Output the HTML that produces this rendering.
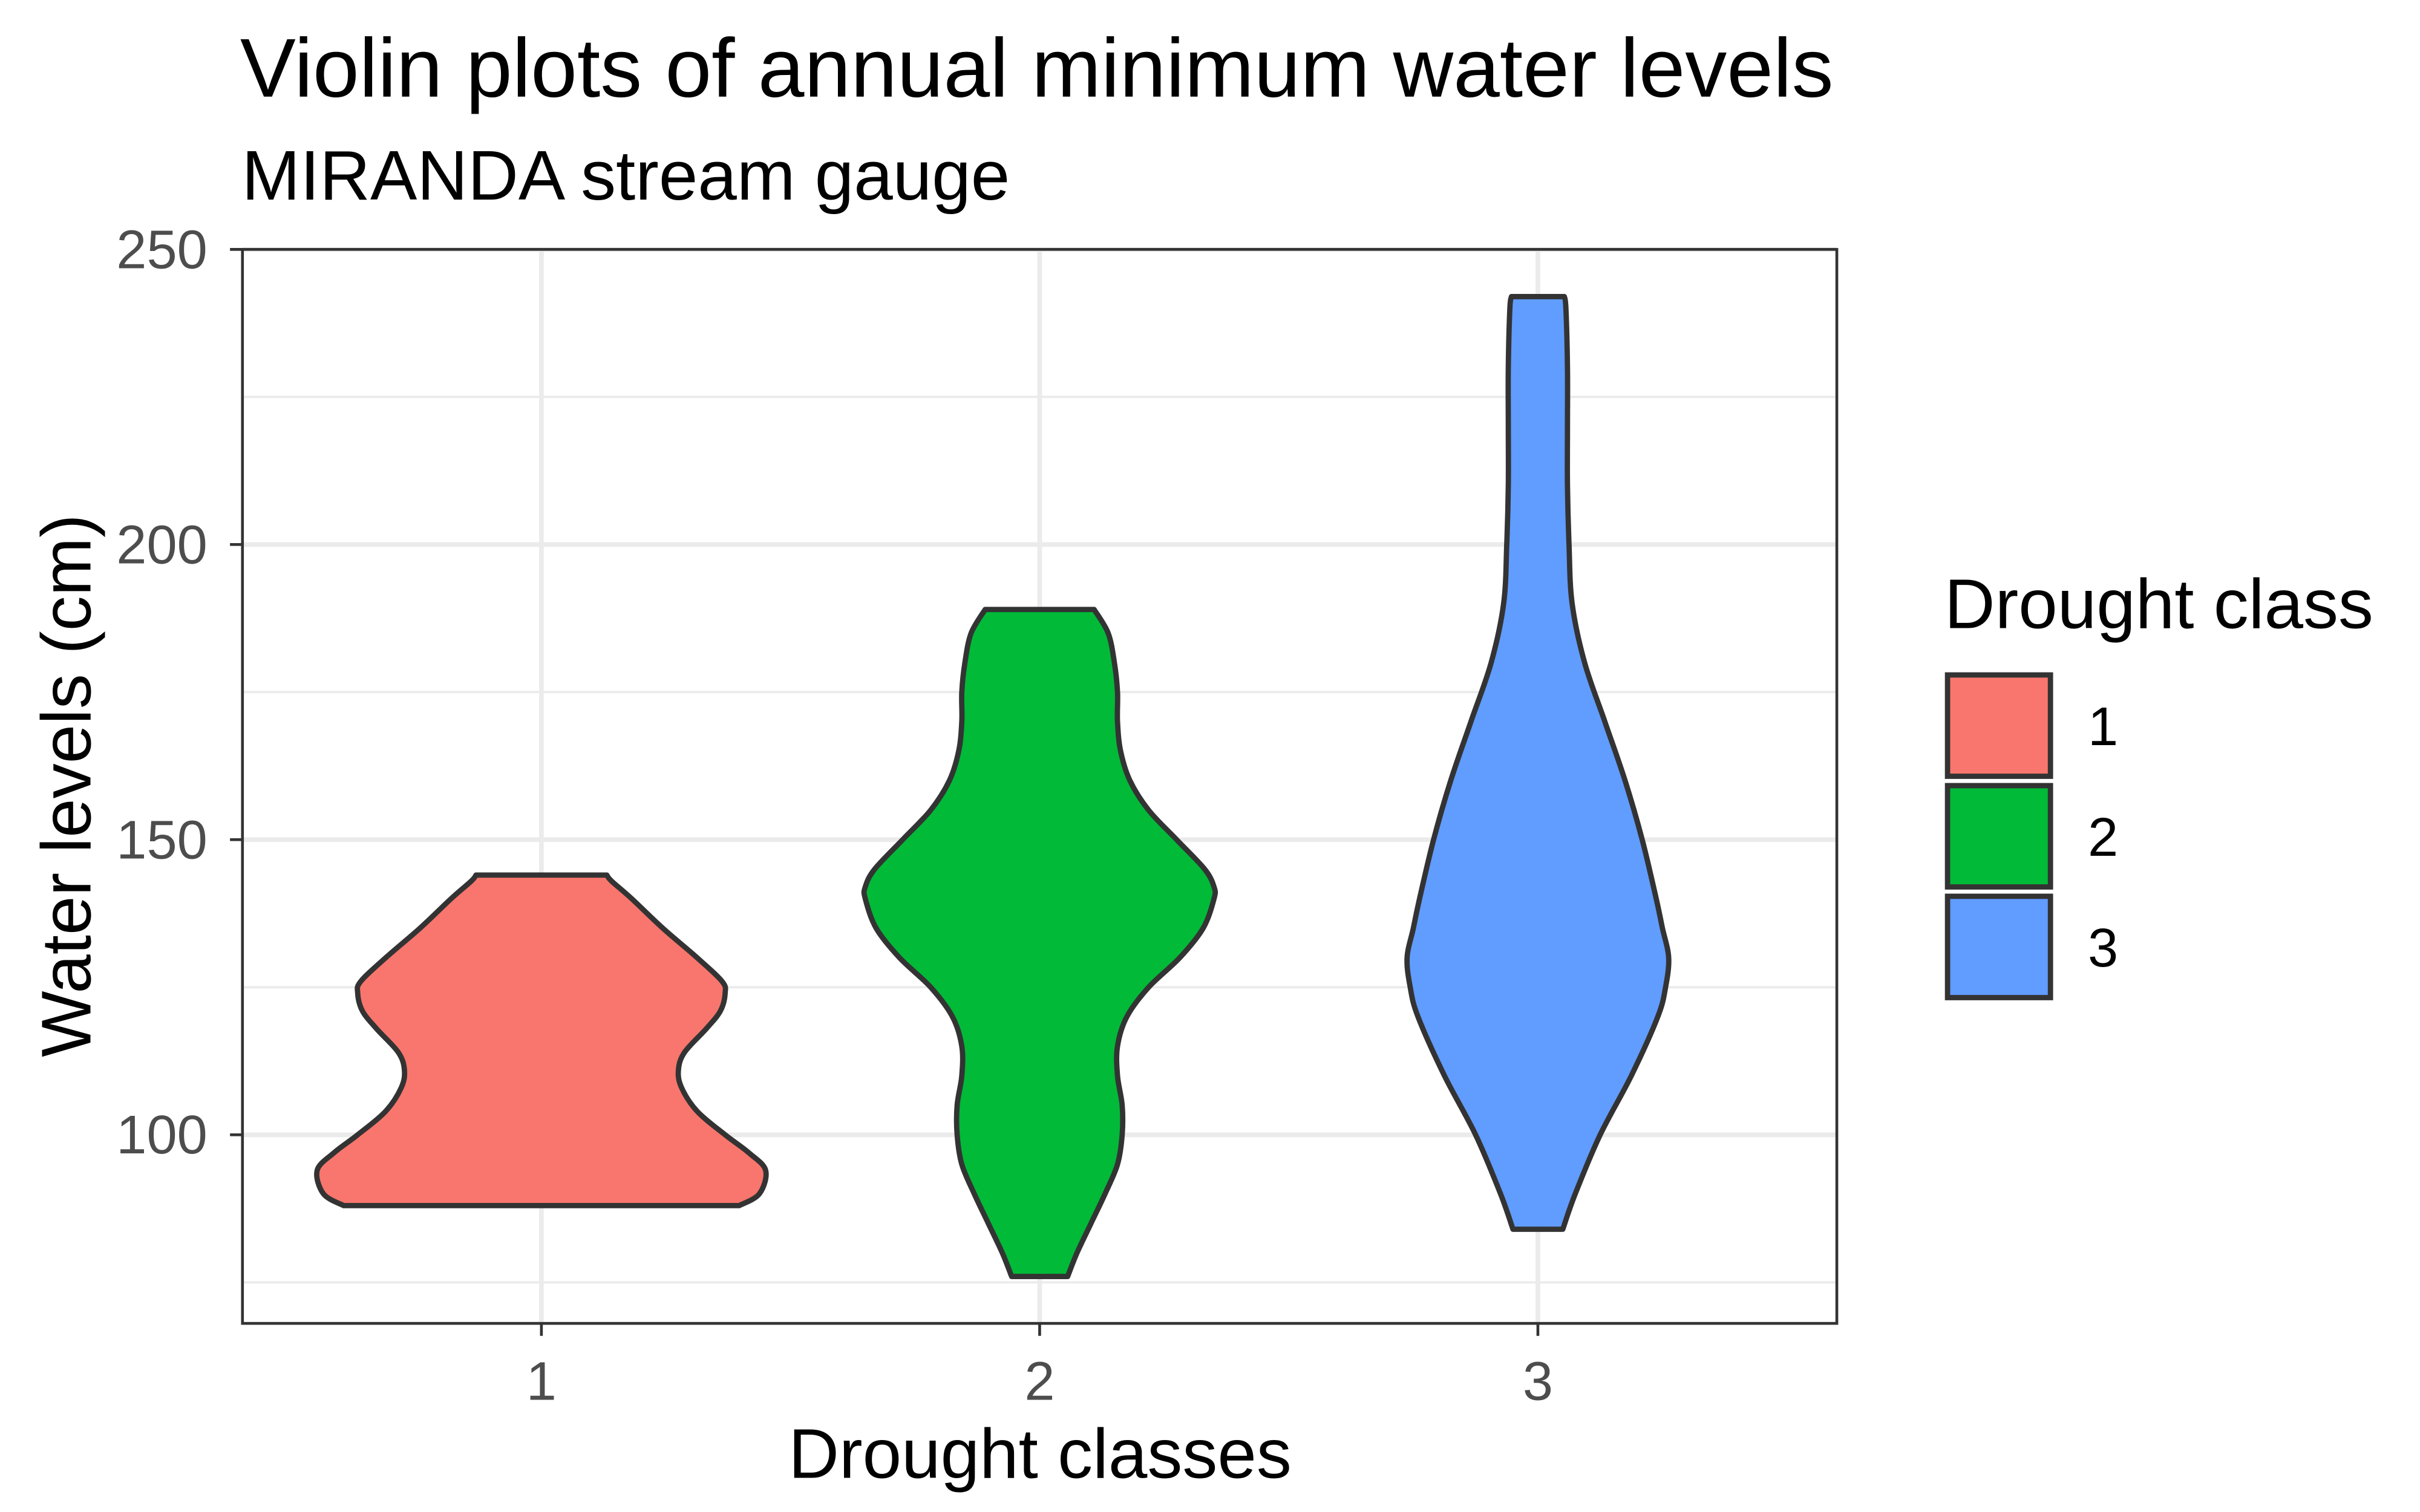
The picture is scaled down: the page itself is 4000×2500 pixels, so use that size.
<!DOCTYPE html>
<html><head><meta charset="utf-8"><style>
html,body{margin:0;padding:0;background:#fff;}
svg{display:block;}
text{font-family:"Liberation Sans",Arial,sans-serif;}
</style></head><body>
<svg id="chart" width="4000" height="2500" viewBox="0 0 1552 970" preserveAspectRatio="none" xmlns="http://www.w3.org/2000/svg">
<rect x="0" y="0" width="1552" height="970" fill="#fff"/>
<text x="154" y="62" font-size="53.5" fill="#000">Violin plots of annual minimum water levels</text>
<text x="155" y="128" font-size="45" fill="#000">MIRANDA stream gauge</text>
<g id="grid"></g>
<g id="violins"></g>
<rect x="155.5" y="160" width="1022.5" height="689" fill="none" stroke="#333" stroke-width="1.8"/>
<g id="axes"></g>
<text x="667" y="948" font-size="45" text-anchor="middle" fill="#000">Drought classes</text>
<text transform="translate(58,504) rotate(-90)" font-size="45" text-anchor="middle" fill="#000">Water levels (cm)</text>
<g>
<text x="1247" y="403" font-size="45" fill="#000">Drought class</text>
<g id="legend-keys"></g>
</g>
</svg>
<script>
const categories = ["1","2","3"];
const colors = ["#F8766D","#00BA38","#619CFF"];
const yTicks = [100,150,200,250];
const yMinor = [75,125,175,225];
const levels1 = [88,90,94,97,100,104,108,111,114,118,121,124,126,130,135,140,143,144];
const widths1 = [127,140,144,133,118,100,90,88,92,106,115,118,116,100,78,58,45,42];
const levels2 = [76,80,85,90,95,100,105,110,115,120,125,130,135,140,142,145,150,155,160,165,170,175,180,185,189];
const widths2 = [18,24,33,42,50,53,53,50,50,56,70,90,105,112,112,106,88,70,58,52,50,50,48,44,35];
const levels3 = [84,90,100,110,120,125,130,135,140,150,160,170,180,190,200,210,220,230,240,242];
const widths3 = [16,24,40,60,77,82,84,80,76,67,56,43,30,22,20,19,19,19,18,17];
const levels = [levels1,levels2,levels3];
const widths = [widths1,widths2,widths3];

const NS="http://www.w3.org/2000/svg";
const px0=155.5, px1=1178, py0=160, py1=849;
const xMin=0.4, xMax=3.6, yMin=68.05, yMax=250;
const xs=v=>px0+(v-xMin)/(xMax-xMin)*(px1-px0);
const ys=v=>py1-(v-yMin)/(yMax-yMin)*(py1-py0);
const wScale=w=>w/144*0.45*(xs(1)-xs(0));
function mk(tag,attrs,parent){const e=document.createElementNS(NS,tag);for(const k in attrs)e.setAttribute(k,attrs[k]);parent.appendChild(e);return e;}
function smooth(pts){ // catmull-rom through points (open)
 let d='M'+pts[0][0].toFixed(2)+','+pts[0][1].toFixed(2);
 for(let i=0;i<pts.length-1;i++){
  const p0=pts[Math.max(0,i-1)],p1=pts[i],p2=pts[i+1],p3=pts[Math.min(pts.length-1,i+2)];
  const c1=[p1[0]+(p2[0]-p0[0])/6,p1[1]+(p2[1]-p0[1])/6];
  const c2=[p2[0]-(p3[0]-p1[0])/6,p2[1]-(p3[1]-p1[1])/6];
  d+='C'+c1[0].toFixed(2)+','+c1[1].toFixed(2)+' '+c2[0].toFixed(2)+','+c2[1].toFixed(2)+' '+p2[0].toFixed(2)+','+p2[1].toFixed(2);
 }
 return d;
}
const grid=document.getElementById('grid');
yMinor.forEach(v=>{const l=mk('line',{x1:px0,x2:px1,y1:ys(v),y2:ys(v),stroke:'#ebebeb','stroke-width':1.5},grid);

});
yTicks.forEach(v=>{const l=mk('line',{x1:px0,x2:px1,y1:ys(v),y2:ys(v),stroke:'#ebebeb','stroke-width':3},grid);

});
categories.forEach((c,i)=>{const l=mk('line',{x1:xs(i+1),x2:xs(i+1),y1:py0,y2:py1,stroke:'#ebebeb','stroke-width':3},grid);

});
const vg=document.getElementById('violins');
categories.forEach((c,i)=>{
 const cx=xs(i+1), L=levels[i], W=widths[i];
 const left=[],right=[];
 for(let j=0;j<L.length;j++){left.push([cx-wScale(W[j]),ys(L[j])]);right.push([cx+wScale(W[j]),ys(L[j])]);}
 right.reverse();
 let d=smooth(left);
 d+=' L'+right[0][0].toFixed(2)+','+right[0][1].toFixed(2);
 d+=smooth(right).replace(/^M[^C]*/,'');
 d+='Z';
 const p=mk('path',{d:d,fill:colors[i],stroke:'#333','stroke-width':3.4,'stroke-linejoin':'round'},vg);
 
 
});
const ax=document.getElementById('axes');
yTicks.forEach(v=>{
 const t=mk('line',{x1:px0-8,x2:px0,y1:ys(v),y2:ys(v),stroke:'#333','stroke-width':1.8},ax);
 
 
 const tx=mk('text',{x:133,y:ys(v)+12,'font-size':35,'text-anchor':'end',fill:'#4d4d4d'},ax);
 tx.textContent=v;
 
 
});
categories.forEach((c,i)=>{
 const t=mk('line',{x1:xs(i+1),x2:xs(i+1),y1:py1,y2:py1+8,stroke:'#333','stroke-width':1.8},ax);
 
 
 const tx=mk('text',{x:xs(i+1),y:898,'font-size':35,'text-anchor':'middle',fill:'#4d4d4d'},ax);
 tx.textContent=c;
 
 
});
const lk=document.getElementById('legend-keys');
categories.forEach((c,i)=>{
 const y=433+i*71;
 const r=mk('rect',{x:1249,y:y,width:66,height:65,fill:colors[i],stroke:'#333','stroke-width':3.4},lk);
 
 
 const t=mk('text',{x:1339,y:y+45,'font-size':35,fill:'#000'},lk);
 t.textContent=c;
 
 
});
</script>
</body></html>
